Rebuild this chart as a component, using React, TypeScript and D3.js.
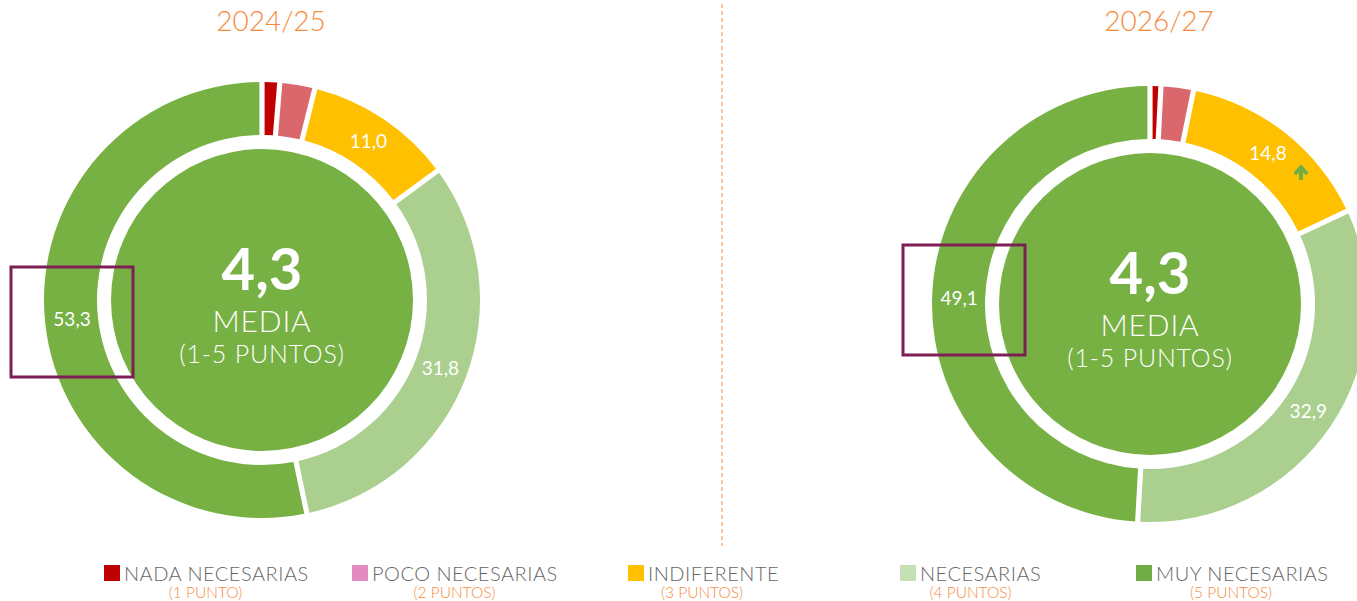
import React from "react";
import * as d3 from "d3";

const categories = ["NADA NECESARIAS", "POCO NECESARIAS", "INDIFERENTE", "NECESARIAS", "MUY NECESARIAS"];
const subLabels = ["(1 PUNTO)", "(2 PUNTOS)", "(3 PUNTOS)", "(4 PUNTOS)", "(5 PUNTOS)"];
const sliceColors = ["#C00000", "#D9676B", "#FFC000", "#ABCF8E", "#77B043"];
const legendColors = ["#C00000", "#E28BC0", "#FFC000", "#C5E0B4", "#70AD47"];
const years = ["2024/25", "2026/27"];
const values2024 = [1.3, 2.6, 11.0, 31.8, 53.3];
const values2026 = [0.8, 2.4, 14.8, 32.9, 49.1];
const means = ["4,3", "4,3"];
const showLabel = [false, false, true, true, true];

const W = 1357;
const H = 601;
const ORANGE = "#F58B3C";
const FONT = "Lato, 'Open Sans', sans-serif";

const fmt = (v: number) => v.toFixed(1).replace(".", ",");

const Donut = ({ cx, cy, values, title, mean, box, arrow }: any) => {
  const pie = d3.pie<number>().sort(null).value((d) => d);
  const arcs = pie(values);
  const arc = d3.arc<d3.PieArcDatum<number>>().innerRadius(165).outerRadius(218).padAngle(0.019);
  const labelArc = d3.arc<d3.PieArcDatum<number>>().innerRadius(191).outerRadius(191);
  return (
    <g>
      <text x={cx + 9} y={31} textAnchor="middle" fill={ORANGE} fontSize={28} fontFamily={FONT} fontWeight={300}>
        {title}
      </text>
      <g transform={`translate(${cx},${cy})`}>
        {arcs.map((a, i) => (
          <path key={i} d={arc(a) || ""} fill={sliceColors[i]} />
        ))}
        <circle r={151} fill="#77B043" />
        {arcs.map((a, i) => {
          if (!showLabel[i]) return null;
          const [x, y] = labelArc.centroid(a);
          return (
            <text key={"l" + i} x={x} y={y} dy="0.35em" textAnchor="middle" fill="#fff" fontSize={19} fontFamily={FONT}>
              {fmt(values[i])}
            </text>
          );
        })}
        {arrow && (() => {
          const [x, y] = labelArc.centroid(arcs[2]);
          return (
            <g transform={`translate(${x + 33},${y + 18})`} stroke="#70AD47" fill="#70AD47">
              <line x1={0} y1={-3} x2={0} y2={8} strokeWidth={4} />
              <polygon points="-7,1 0,-7 7,1 5,3 0,-2 -5,3" strokeWidth={1} strokeLinejoin="round" />
            </g>
          );
        })()}
        <text y={-10} textAnchor="middle" fill="#fff" fontSize={58} fontWeight={700} fontFamily={FONT}>
          {mean}
        </text>
        <text y={32} textAnchor="middle" fill="#fff" fontSize={30} fontFamily={FONT} fontWeight={300} letterSpacing={0.8}>
          MEDIA
        </text>
        <text y={63} textAnchor="middle" fill="#fff" fontSize={25} fontFamily={FONT} fontWeight={300} letterSpacing={0.8}>
          (1-5 PUNTOS)
        </text>
      </g>
      <rect x={box[0]} y={box[1]} width={122} height={110} fill="none" stroke="#7B1F55" strokeWidth={3} />
    </g>
  );
};

const legendX = [104, 352, 628, 900, 1136];
const legendEnd = [307, 557, 776, 1041, 1326];

export default function App() {
  return (
    <svg width={W} height={H} style={{ position: "absolute", left: 0, top: 0 }}>
      <rect width={W} height={H} fill="#fff" />
      <line x1={722} x2={722} y1={4} y2={546} stroke={ORANGE} strokeWidth={1} strokeDasharray="4,3" />
      <Donut cx={262} cy={300} values={values2024} title={years[0]} mean={means[0]} box={[11, 267]} arrow={false} />
      <Donut cx={1150} cy={304} values={values2026} title={years[1]} mean={means[1]} box={[903, 245]} arrow={true} />
      {categories.map((c, i) => {
        const x = legendX[i];
        return (
          <g key={c}>
            <rect x={x} y={565} width={16} height={16} fill={legendColors[i]} />
            <text x={x + 20} y={581} fill="#666" fontSize={20} fontFamily={FONT} fontWeight={300} letterSpacing={0.5}>
              {c}
            </text>
            <text x={(x + legendEnd[i]) / 2} y={598} textAnchor="middle" fill={ORANGE} fontSize={15.5} fontFamily={FONT} fontWeight={300}>
              {subLabels[i]}
            </text>
          </g>
        );
      })}
    </svg>
  );
}
